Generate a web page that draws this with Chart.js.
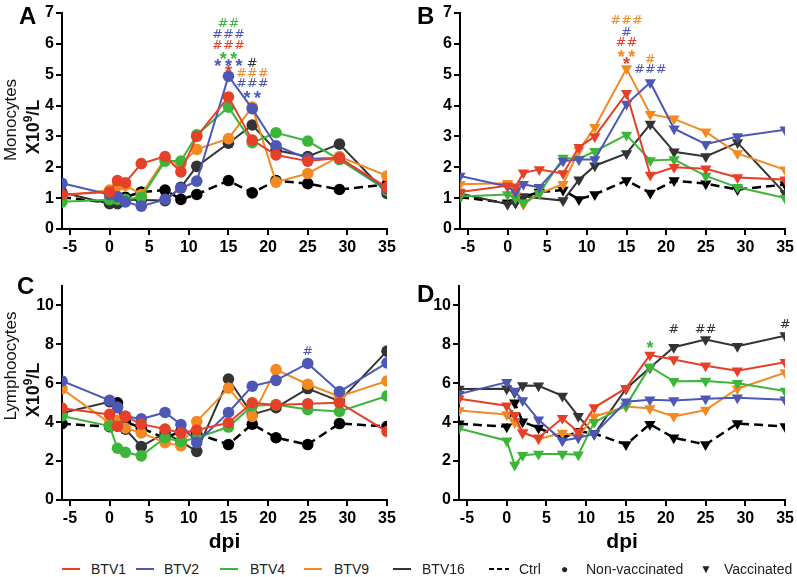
<!DOCTYPE html>
<html>
<head>
<meta charset="utf-8">
<script src="https://cdn.jsdelivr.net/npm/chart.js@4.4.1/dist/chart.umd.min.js"></script>
<style>
    body { margin: 0; background: #fff; }
    #wrap { position: relative; width: 797px; height: 577px; overflow: hidden; font-family: "Liberation Sans", Arial, sans-serif; }
    .panel { position: absolute; }
    .letter { position: absolute; font: bold 24px "Liberation Sans", Arial, sans-serif; color: #000; line-height: 1; }
    .ytitle { position: absolute; transform: translate(-50%, -50%) rotate(-90deg); white-space: nowrap; color: #111; line-height: 1; }
    .ytitle.name { font: 17px "Liberation Sans", Arial, sans-serif; }
    .ytitle.unit { font: bold 18px "Liberation Sans", Arial, sans-serif; }
    .ytitle sup { font-size: 12px; }
    .leg { position: absolute; top: 569px; transform: translateY(-50%); font: 14px "Liberation Sans", Arial, sans-serif; color: #222; white-space: nowrap; }
    .legline { position: absolute; top: 568px; width: 18px; height: 2px; }
</style>
</head>
<body>
<div id="wrap">
    <div class="panel" style="left:0;top:0;width:400px;height:262px"><canvas id="chartA"></canvas></div>
    <div class="panel" style="left:398px;top:0;width:399px;height:262px"><canvas id="chartB"></canvas></div>
    <div class="panel" style="left:0;top:270px;width:400px;height:290px"><canvas id="chartC"></canvas></div>
    <div class="panel" style="left:397px;top:270px;width:400px;height:290px"><canvas id="chartD"></canvas></div>

    <div class="letter" style="left:19px;top:4px">A</div>
    <div class="letter" style="left:417px;top:4px">B</div>
    <div class="letter" style="left:17px;top:274px">C</div>
    <div class="letter" style="left:417px;top:282px">D</div>

    <div class="ytitle name" style="left:11px;top:120px">Monocytes</div>
    <div class="ytitle unit" style="left:32px;top:127px">X10<sup>9</sup>/L</div>
    <div class="ytitle name" style="left:11px;top:366px">Lymphoocytes</div>
    <div class="ytitle unit" style="left:32px;top:390px">X10<sup>9</sup>/L</div>

    <div id="legend"></div>
</div>

<script>
// Sampling days (dpi)
const days = [-6, 0, 1, 2, 4, 7, 9, 11, 15, 18, 21, 25, 29, 35];
const xTicks = [-5, 0, 5, 10, 15, 20, 25, 30, 35];
const monoTicks = [0, 1, 2, 3, 4, 5, 6, 7];
const lymphTicks = [0, 2, 4, 6, 8, 10];

const seriesNames = ['BTV1', 'BTV2', 'BTV4', 'BTV9', 'BTV16'];
const seriesColors = ['#e5402a', '#4d58b5', '#3db53a', '#f28a24', '#333333'];

// Controls (shared by vaccinated and non-vaccinated panels)
const ctrlMono = [1.03, 0.85, 0.85, 1.03, 1.2, 1.26, 0.96, 1.12, 1.57, 1.17, 1.57, 1.47, 1.28, 1.44];
const ctrlLymph = [3.92, 3.77, 5.0, 4.02, 3.7, 3.18, 3.53, 3.42, 2.85, 3.9, 3.2, 2.85, 3.93, 3.78];

// A - monocytes, non-vaccinated
const monoNV_btv1 = [1.12, 1.2, 1.57, 1.5, 2.12, 2.35, 1.85, 3.0, 4.28, 2.88, 2.4, 2.2, 2.3, 1.35];
const monoNV_btv2 = [1.48, 1.12, 1.05, 0.88, 0.74, 0.96, 1.32, 1.55, 4.95, 3.9, 2.7, 2.28, 2.3, 1.3];
const monoNV_btv4 = [0.88, 0.95, 0.96, 0.96, 1.03, 2.2, 2.2, 3.05, 3.95, 2.8, 3.12, 2.85, 2.25, 1.25];
const monoNV_btv9 = [1.08, 1.26, 1.4, 1.42, 1.12, 2.28, 2.1, 2.58, 2.93, 3.95, 1.52, 1.8, 2.35, 1.72];
const monoNV_btv16 = [1.18, 0.82, 0.82, 0.95, 0.94, 0.92, 1.35, 2.03, 2.78, 3.37, 2.55, 2.35, 2.75, 1.15];

// B - monocytes, vaccinated
const monoV_btv1 = [1.2, 1.4, 1.37, 1.82, 1.93, 1.8, 2.65, 3.0, 4.4, 1.75, 2.0, 1.95, 1.67, 1.6];
const monoV_btv2 = [1.72, 1.38, 1.2, 1.45, 1.35, 2.2, 2.25, 2.25, 4.05, 4.75, 3.25, 2.75, 3.0, 3.22];
const monoV_btv4 = [1.05, 1.12, 1.0, 0.85, 1.15, 2.3, 2.27, 2.52, 3.05, 2.22, 2.25, 1.72, 1.35, 1.0];
const monoV_btv9 = [1.45, 1.48, 1.1, 0.8, 1.15, 1.45, 2.55, 3.3, 5.2, 3.72, 3.57, 3.15, 2.45, 1.92];
const monoV_btv16 = [1.15, 0.8, 0.85, 1.05, null, 0.92, 1.6, 2.05, 2.45, 3.4, 2.5, 2.35, 2.8, 1.15];

// C - lymphocytes, non-vaccinated
const lymphNV_btv1 = [4.72, 4.4, 3.78, 4.3, 3.9, 3.65, 3.45, 3.6, 3.97, 5.0, 4.88, 4.95, 5.0, 3.52];
const lymphNV_btv2 = [6.12, 5.12, 4.75, 4.3, 4.17, 4.5, 3.88, 2.95, 4.5, 5.85, 6.15, 7.02, 5.57, 7.05];
const lymphNV_btv4 = [4.32, 3.8, 2.66, 2.45, 2.27, 3.2, 3.0, 3.2, 3.75, 4.85, 4.9, 4.65, 4.55, 5.35];
const lymphNV_btv9 = [5.72, 3.95, 4.1, 3.7, 3.45, 2.95, 2.78, 4.03, 5.75, 4.3, 6.7, 5.95, 5.32, 6.12];
const lymphNV_btv16 = [4.47, 5.05, 4.8, 3.64, 2.75, 3.45, 3.0, 2.5, 6.22, 4.4, 4.75, 5.73, 5.08, 7.65];

// D - lymphocytes, vaccinated
const lymphV_btv1 = [5.2, 4.85, 4.35, 3.45, 3.2, 4.2, 3.5, 4.75, 5.75, 7.45, 7.22, 6.9, 6.65, 7.08];
const lymphV_btv2 = [5.45, 6.05, 5.6, 5.12, 4.12, 3.05, 3.2, 3.4, 5.05, 5.15, 5.12, 5.2, 5.25, 5.15];
const lymphV_btv4 = [3.68, 3.05, 1.8, 2.3, 2.37, 2.37, 2.33, 4.0, 4.85, 6.85, 6.1, 6.12, 6.0, 5.6];
const lymphV_btv9 = [4.6, 4.4, 3.98, 3.5, 3.13, 3.45, 3.25, 4.28, 4.8, 4.7, 4.3, 4.62, 5.72, 6.55];
const lymphV_btv16 = [5.7, 5.72, 5.53, 5.88, 5.87, 5.35, 4.3, 3.38, 5.72, 6.8, 7.85, 8.25, 7.9, 8.45];

// Significance marks: [day, level, text, series index (5 = ctrl/black)]
const marksA = [
    [15, 6.67, '##', 2], [15, 6.3, '###', 1], [15, 5.95, '###', 0],
    [15, 5.62, '**', 2], [15, 5.38, '***', 1], [15, 5.2, '*', 0],
    [18, 5.36, '#', 4], [18, 5.02, '###', 3], [18, 4.71, '###', 1], [18, 4.35, '**', 1]
];
const marksB = [
    [15, 6.75, '###', 3], [15, 6.38, '#', 1], [15, 6.05, '##', 0],
    [15, 5.68, '**', 3], [15, 5.43, '*', 0],
    [18, 5.5, '#', 3], [18, 5.15, '###', 1]
];
const marksC = [[25, 7.63, '#', 1]];
const marksD = [[18, 7.95, '*', 2], [21, 8.76, '#', 4], [25, 8.76, '##', 4], [35, 9.0, '#', 4]];

// Draws the # / * marks above the points
const sigMarksPlugin = {
    id: 'sigMarks',
    afterDatasetsDraw(chart, args, opts) {
        const marks = opts.marks || [];
        const ctx = chart.ctx;
        const xs = chart.scales.x, ys = chart.scales.y;
        ctx.save();
        ctx.textAlign = 'center';
        ctx.textBaseline = 'middle';
        marks.forEach(m => {
            const isStar = m[2].indexOf('*') >= 0;
            ctx.font = isStar ? 'bold 18px "Liberation Sans", Arial, sans-serif' : '13px "DejaVu Sans", sans-serif';
            ctx.fillStyle = m[3] === 5 ? '#000' : seriesColors[m[3]];
            const text = m[2].split('').join(isStar ? '\u2009' : '');
            ctx.fillText(text, xs.getPixelForValue(m[0]), ys.getPixelForValue(m[1]) + (isStar ? 4 : 0));
        });
        ctx.restore();
    }
};

function buildDatasets(groups, ctrl, vaccinated) {
    const style = vaccinated ? 'triangle' : 'circle';
    const rot = vaccinated ? 180 : 0;
    const radius = vaccinated ? 6.5 : 5.8;
    const sets = groups.map((vals, i) => ({
        label: seriesNames[i],
        data: days.map((d, k) => ({ x: d, y: vals[k] })),
        borderColor: seriesColors[i],
        backgroundColor: seriesColors[i],
        borderWidth: 2,
        pointStyle: style,
        pointRotation: rot,
        pointRadius: radius,
        pointBorderWidth: 0,
        spanGaps: true
    }));
    sets.push({
        label: 'Ctrl',
        data: days.map((d, k) => ({ x: d, y: ctrl[k] })),
        borderColor: '#000',
        backgroundColor: '#000',
        borderWidth: 2.5,
        borderDash: [9, 5],
        pointStyle: style,
        pointRotation: rot,
        pointRadius: radius,
        pointBorderWidth: 0
    });
    return sets;
}

function makePanel(id, groups, ctrl, vaccinated, yMax, yTicks, marks, opt) {
    const ctx = document.getElementById(id);
    const tickFont = { family: '"Liberation Sans", Arial, sans-serif', size: 16, weight: 'bold' };
    const axisGrid = { display: true, drawOnChartArea: false, drawTicks: true, tickLength: 6, color: '#000', lineWidth: 2 };
    return new Chart(ctx, {
        type: 'line',
        data: { datasets: buildDatasets(groups, ctrl, vaccinated) },
        plugins: [sigMarksPlugin],
        options: {
            responsive: true,
            maintainAspectRatio: false,
            animation: false,
            layout: { padding: { top: opt.top, right: opt.right, left: 0, bottom: 0 } },
            plugins: {
                legend: { display: false },
                tooltip: { enabled: false },
                sigMarks: { marks: marks }
            },
            scales: {
                x: {
                    type: 'linear',
                    min: -6,
                    max: 35,
                    afterBuildTicks: s => { s.ticks = xTicks.map(v => ({ value: v })); },
                    afterFit: s => { s.height = opt.xHeight; },
                    grid: axisGrid,
                    border: { color: '#000', width: 2 },
                    ticks: { color: '#000', font: tickFont, padding: 3, maxRotation: 0 },
                    title: {
                        display: opt.showDpi,
                        text: 'dpi',
                        color: '#000',
                        font: { family: '"Liberation Sans", Arial, sans-serif', size: 21, weight: 'bold' },
                        padding: { top: 0, bottom: 5 }
                    }
                },
                y: {
                    min: 0,
                    max: yMax,
                    afterBuildTicks: s => { s.ticks = yTicks.map(v => ({ value: v })); },
                    afterFit: s => { s.width = 62; },
                    grid: axisGrid,
                    border: { color: '#000', width: 2 },
                    ticks: { color: '#000', font: tickFont, padding: 2 }
                }
            }
        }
    });
}

makePanel('chartA', [monoNV_btv1, monoNV_btv2, monoNV_btv4, monoNV_btv9, monoNV_btv16], ctrlMono, false,
    7, monoTicks, marksA, { top: 13, right: 13, xHeight: 33, showDpi: false });
makePanel('chartB', [monoV_btv1, monoV_btv2, monoV_btv4, monoV_btv9, monoV_btv16], ctrlMono, true,
    7, monoTicks, marksB, { top: 13, right: 10, xHeight: 33, showDpi: false });
makePanel('chartC', [lymphNV_btv1, lymphNV_btv2, lymphNV_btv4, lymphNV_btv9, lymphNV_btv16], ctrlLymph, false,
    11, lymphTicks, marksC, { top: 16, right: 13, xHeight: 60, showDpi: true });
makePanel('chartD', [lymphV_btv1, lymphV_btv2, lymphV_btv4, lymphV_btv9, lymphV_btv16], ctrlLymph, true,
    11, lymphTicks, marksD, { top: 16, right: 11, xHeight: 60, showDpi: true });

// Legend (HTML text)
function buildLegend() {
    const legend = document.getElementById('legend');
    const lineLeft = [62, 136, 220, 304, 393];
    const textLeft = [91, 164, 250, 334, 422];
    let html = '';
    seriesNames.forEach((name, i) => {
        html += `<div class="legline" style="left:${lineLeft[i]}px;background:${seriesColors[i]}"></div>`;
        html += `<div class="leg" style="left:${textLeft[i]}px">${name}</div>`;
    });
    html += '<div class="legline" style="left:489px;width:20px;background:repeating-linear-gradient(90deg,#000 0 5px,transparent 5px 8px)"></div>';
    html += '<div class="leg" style="left:519px">Ctrl</div>';
    html += '<div class="leg" style="left:561px;font-size:12px">\u25CF</div>';
    html += '<div class="leg" style="left:586px">Non-vaccinated</div>';
    html += '<div class="leg" style="left:700px;font-size:12px">\u25BC</div>';
    html += '<div class="leg" style="left:724px">Vaccinated</div>';
    legend.innerHTML = html;
}
buildLegend();
</script>
</body>
</html>
